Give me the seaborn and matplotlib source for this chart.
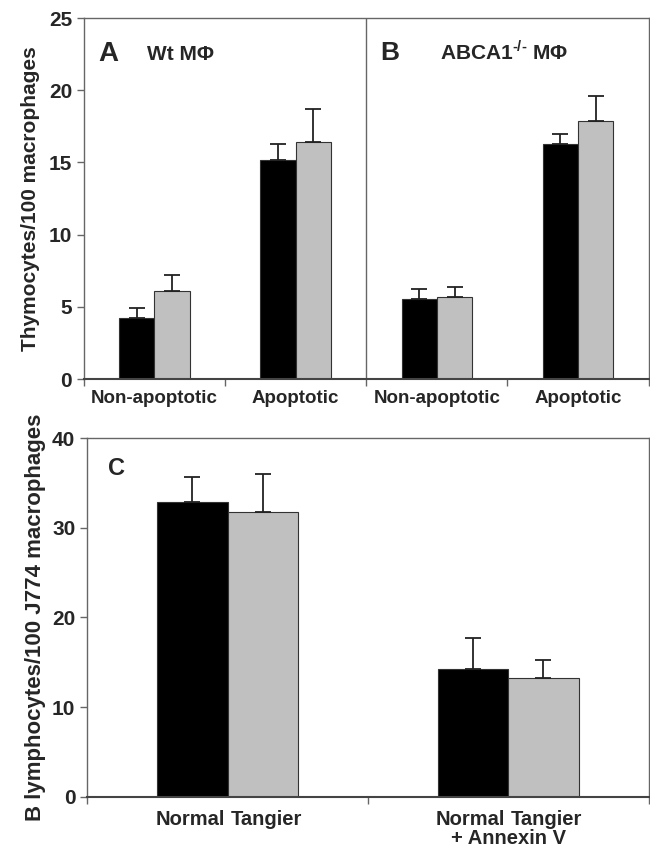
import pandas as pd
import numpy as np
import matplotlib
matplotlib.use("Agg")
import matplotlib.pyplot as plt
import seaborn as sns

# panels A/B: thymocytes
ab_groups = ["A Non-apoptotic", "A Apoptotic", "B Non-apoptotic", "B Apoptotic"]
ab_labels = ["Non-apoptotic", "Apoptotic", "Non-apoptotic", "Apoptotic"]
ab_series = ["black", "gray"]
ab_black = [4.2, 15.2, 5.55, 16.3]
ab_gray = [6.1, 16.4, 5.65, 17.9]
ab_black_err = [0.7, 1.1, 0.7, 0.7]
ab_gray_err = [1.1, 2.3, 0.75, 1.7]

# panel C: B lymphocytes
c_groups = ["Normal Tangier", "Normal Tangier + Annexin V"]
c_black = [32.9, 14.3]
c_gray = [31.7, 13.3]
c_black_err = [2.7, 3.4]
c_gray_err = [4.3, 2.0]

sns.set_theme(style="white")
plt.rcParams["font.family"] = ["Liberation Sans", "DejaVu Sans"]
plt.rcParams["mathtext.fontset"] = "custom"
plt.rcParams["mathtext.bf"] = "Liberation Sans:bold"
plt.rcParams["mathtext.rm"] = "Liberation Sans:bold"

palette = {"black": "#000000", "gray": "#c0c0c0"}
spine_col = "#666666"


def make_df(groups, black, gray, black_err, gray_err):
    rows = []
    for g, v, e in zip(groups, black, black_err):
        rows.append({"group": g, "series": "black", "value": v, "err": e})
    for g, v, e in zip(groups, gray, gray_err):
        rows.append({"group": g, "series": "gray", "value": v, "err": e})
    return pd.DataFrame(rows)


def draw_panel(ax, df, groups):
    sns.barplot(data=df, x="group", y="value", hue="series", order=groups,
                hue_order=ab_series, palette=palette, width=0.5, errorbar=None,
                edgecolor="#333333", linewidth=0.8, legend=False, ax=ax)
    # upper error bars from the drawn bars
    for patch, err in zip(ax.patches, df["err"]):
        x = patch.get_x() + patch.get_width() / 2
        h = patch.get_height()
        ax.errorbar(x, h, yerr=[[0], [err]], fmt="none", ecolor="#222222",
                    elinewidth=1.3, capsize=6, capthick=1.3)
    n = len(groups)
    ax.set_xlim(-0.5, n - 0.5)
    ax.set_xticks(np.arange(n))
    ax.set_xticks(np.arange(n + 1) - 0.5, minor=True)
    ax.tick_params(axis="x", which="major", length=0)
    ax.tick_params(axis="x", which="minor", length=5, width=1, color=spine_col, direction="out", bottom=True)
    ax.tick_params(axis="y", length=5, width=1, color=spine_col, direction="out", left=True, labelsize=15)
    for s in ax.spines.values():
        s.set_color(spine_col)
        s.set_linewidth(1)
    ax.spines["bottom"].set_linewidth(1.5)
    ax.spines["bottom"].set_color("#444444")
    ax.set_xlabel("")


fig = plt.figure(figsize=(6.5, 8.51), dpi=100)

ax1 = fig.add_axes([0.129, 0.5546, 0.869, 0.4242])
df1 = make_df(ab_groups, ab_black, ab_gray, ab_black_err, ab_gray_err)
draw_panel(ax1, df1, ab_groups)
ax1.set_ylim(0, 25)
ax1.set_yticks([0, 5, 10, 15, 20, 25])
ax1.set_yticklabels([0, 5, 10, 15, 20, 25], fontweight="bold")
ax1.set_xticklabels(ab_labels, fontsize=13.5, fontweight="bold")
ax1.tick_params(axis="x", which="major", pad=8)
ax1.axvline(1.5, color=spine_col, linewidth=1)
ax1.set_ylabel("Thymocytes/100 macrophages", fontsize=15, fontweight="bold", labelpad=6)
ax1.text(-0.4, 22.0, "A", fontsize=20, fontweight="bold", va="baseline")
ax1.text(-0.05, 22.1, "Wt MΦ", fontsize=15, fontweight="bold", va="baseline")
ax1.text(1.6, 22.1, "B", fontsize=19, fontweight="bold", va="baseline")
ax1.text(2.02, 22.1, r"ABCA1$^{\text{-/-}}$ MΦ", fontsize=15, fontweight="bold", va="baseline")

ax2 = fig.add_axes([0.134, 0.0635, 0.864, 0.4218])
df2 = make_df(c_groups, c_black, c_gray, c_black_err, c_gray_err)
draw_panel(ax2, df2, c_groups)
ax2.set_ylim(0, 40)
ax2.set_yticks([0, 10, 20, 30, 40])
ax2.set_yticklabels([0, 10, 20, 30, 40], fontweight="bold")
ax2.set_xticklabels([])
ax2.set_ylabel("B lymphocytes/100 J774 macrophages", fontsize=16, fontweight="bold", labelpad=4)
ax2.text(-0.425, 35.9, "C", fontsize=17, fontweight="bold", va="baseline")
trans = ax2.get_xaxis_transform()
for i in range(len(c_groups)):
    ax2.text(i - 0.01, -0.035, "Normal", transform=trans, ha="right", va="top", fontsize=14.5, fontweight="bold")
    ax2.text(i + 0.01, -0.035, "Tangier", transform=trans, ha="left", va="top", fontsize=14.5, fontweight="bold")
ax2.text(1, -0.088, "+ Annexin V", transform=trans, ha="center", va="top", fontsize=14.5, fontweight="bold")

fig.savefig("out.png", dpi=100, facecolor="white")
